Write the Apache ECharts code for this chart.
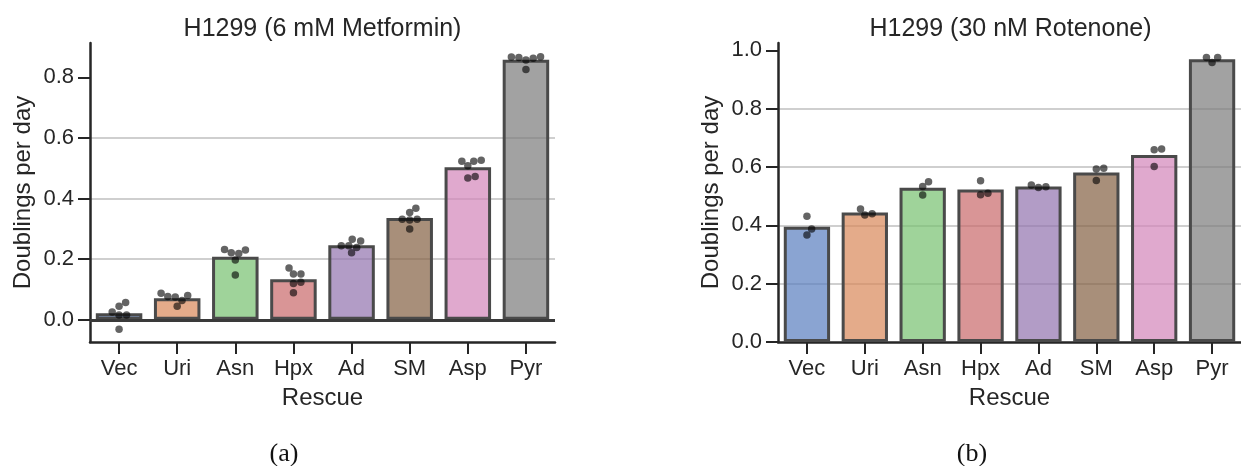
<!DOCTYPE html>
<html>
<head>
<meta charset="utf-8">
<script src="https://cdn.jsdelivr.net/npm/echarts@6/dist/echarts.min.js"></script>
<style>
  html, body { margin: 0; padding: 0; background: #ffffff; }
  #chart { width: 1241px; height: 466px; }
</style>
</head>
<body>
<div id="chart"></div>
<script>
// Rescue conditions on the x axis
const categories = ['Vec', 'Uri', 'Asn', 'Hpx', 'Ad', 'SM', 'Asp', 'Pyr'];

// Replicate growth rates (doublings per day) under 6 mM metformin
const metforminVec = [0.057, 0.045, 0.026, 0.016, 0.016, -0.031];
const metforminUri = [0.080, 0.064, 0.075, 0.077, 0.088, 0.045];
const metforminAsn = [0.230, 0.219, 0.221, 0.232, 0.197, 0.148];
const metforminHpx = [0.171, 0.151, 0.151, 0.124, 0.120, 0.089];
const metforminAd  = [0.260, 0.266, 0.239, 0.244, 0.244, 0.221];
const metforminSM  = [0.368, 0.354, 0.332, 0.329, 0.332, 0.300];
const metforminAsp = [0.523, 0.508, 0.523, 0.526, 0.473, 0.468];
const metforminPyr = [0.868, 0.863, 0.857, 0.865, 0.867, 0.826];

// Replicate growth rates (doublings per day) under 30 nM rotenone
const rotenoneVec = [0.431, 0.387, 0.367];
const rotenoneUri = [0.440, 0.435, 0.456];
const rotenoneAsn = [0.549, 0.533, 0.504];
const rotenoneHpx = [0.553, 0.510, 0.505];
const rotenoneAd  = [0.532, 0.530, 0.538];
const rotenoneSM  = [0.596, 0.593, 0.554];
const rotenoneAsp = [0.662, 0.659, 0.602];
const rotenonePyr = [0.975, 0.975, 0.958];

// Y tick labels
const metforminTicks = [0, 0.2, 0.4, 0.6, 0.8];
const rotenoneTicks = [0, 0.2, 0.4, 0.6, 0.8, 1.0];

const metforminReps = [metforminVec, metforminUri, metforminAsn, metforminHpx,
                       metforminAd, metforminSM, metforminAsp, metforminPyr];
const rotenoneReps = [rotenoneVec, rotenoneUri, rotenoneAsn, rotenoneHpx,
                      rotenoneAd, rotenoneSM, rotenoneAsp, rotenonePyr];

// ---- layout and style ----
const FONT = 'Liberation Sans';
const INK = '#262626';
// translucent muted fills, so the grid shows through the bars
const FILLS = [
  'rgba(88,125,191,0.7)', 'rgba(216,135,88,0.7)', 'rgba(118,192,111,0.7)',
  'rgba(201,104,105,0.7)', 'rgba(145,114,174,0.7)', 'rgba(131,95,65,0.7)',
  'rgba(211,132,185,0.7)', 'rgba(122,122,122,0.7)'
];
const GRID_TOP = 43, GRID_H = 299, GRID_W = 465;
const panels = [
  { left: 90,  reps: metforminReps, ticks: metforminTicks, yMin: -0.073, yMax: 0.913,
    title: 'H1299 (6 mM Metformin)', caption: '(a)', captionX: 284, zeroLine: true },
  { left: 778, reps: rotenoneReps, ticks: rotenoneTicks, yMin: 0, yMax: 1.025,
    title: 'H1299 (30 nM Rotenone)', caption: '(b)', captionX: 972, zeroLine: false }
];
const DOT = 7.5;

const mean = a => a.reduce((s, v) => s + v, 0) / a.length;

// Beeswarm placement: each point goes to the position closest to the
// category centre that does not overlap points already placed.
function swarmOffsets(values, pxPerX, pxPerY, d) {
  const order = values.map((v, i) => i).sort((a, b) => values[a] - values[b]);
  const placed = [];
  const offs = new Array(values.length);
  for (const i of order) {
    const y = values[i] * pxPerY;
    const cands = [0];
    for (const p of placed) {
      const dy = Math.abs(p.y - y);
      if (dy < d) {
        const dx = Math.sqrt(d * d - dy * dy);
        cands.push(p.x + dx, p.x - dx);
      }
    }
    cands.sort((a, b) => Math.abs(a) - Math.abs(b));
    const x = cands.find(c => placed.every(p => Math.hypot(p.x - c, p.y - y) >= d - 1e-6));
    placed.push({ x, y });
    offs[i] = x / pxPerX;
  }
  return offs;
}

const grid = [], xAxis = [], yAxis = [], series = [], title = [], graphic = [];

panels.forEach((pn, k) => {
  grid.push({ left: pn.left, top: GRID_TOP, width: GRID_W, height: GRID_H, containLabel: false });

  // category axis (bars, ticks, labels)
  xAxis.push({
    type: 'category', gridIndex: k, data: categories, boundaryGap: true,
    axisLine: { show: true, onZero: false, lineStyle: { color: INK, width: 2.5 } },
    axisTick: { show: true, alignWithLabel: true, length: 12, lineStyle: { color: INK, width: 2 } },
    axisLabel: { color: INK, fontSize: 22, fontFamily: FONT, margin: 16 },
    splitLine: { show: false },
    name: 'Rescue', nameLocation: 'middle', nameGap: 44,
    nameTextStyle: { color: INK, fontSize: 24, fontFamily: FONT }
  });
  // hidden numeric twin for the swarm points
  xAxis.push({ type: 'value', gridIndex: k, min: -0.5, max: 7.5, show: false });

  yAxis.push({
    type: 'value', gridIndex: k, min: pn.yMin, max: pn.yMax, splitNumber: 5,
    axisLine: { show: true, onZero: false, lineStyle: { color: INK, width: 2.5 } },
    axisTick: { show: true, length: 12, customValues: pn.ticks, lineStyle: { color: INK, width: 2 } },
    axisLabel: { color: INK, fontSize: 22, fontFamily: FONT, margin: 16,
                 customValues: pn.ticks, formatter: v => v.toFixed(1) },
    splitLine: { show: true, showMinLine: false, showMaxLine: false,
                 lineStyle: { color: '#cfcfcf', width: 2 } },
    name: 'Doublings per day', nameLocation: 'middle', nameGap: 55,
    nameTextStyle: { color: INK, fontSize: 24, fontFamily: FONT }
  });

  const bar = {
    type: 'bar', xAxisIndex: 2 * k, yAxisIndex: k, barWidth: '80%',
    data: pn.reps.map((r, i) => ({ value: mean(r), itemStyle: { color: FILLS[i] } })),
    itemStyle: { borderColor: '#4a4a4a', borderWidth: 3 },
    emphasis: { disabled: true }, silent: true, z: 2
  };
  if (pn.zeroLine) {
    bar.markLine = {
      silent: true, symbol: 'none', label: { show: false },
      lineStyle: { color: '#3a3a3a', width: 3, type: 'solid' },
      data: [{ yAxis: 0 }]
    };
  }
  series.push(bar);

  const pxPerX = GRID_W / 8;
  const pxPerY = GRID_H / (pn.yMax - pn.yMin);
  const pts = [];
  pn.reps.forEach((r, i) => {
    const offs = swarmOffsets(r, pxPerX, pxPerY, DOT);
    r.forEach((v, j) => pts.push([i + offs[j], v]));
  });
  series.push({
    type: 'scatter', xAxisIndex: 2 * k + 1, yAxisIndex: k, data: pts,
    symbolSize: DOT, itemStyle: { color: 'rgba(0,0,0,0.76)' },
    emphasis: { disabled: true }, silent: true, z: 5
  });

  title.push({
    text: pn.title, left: pn.left + GRID_W / 2, top: 17, textAlign: 'center', padding: 0,
    textStyle: { color: INK, fontSize: 25, fontWeight: 'normal', fontFamily: FONT }
  });

  graphic.push({
    type: 'text', x: pn.captionX, y: 454,
    style: { text: pn.caption, fill: '#111', font: '26px "Liberation Serif"',
             align: 'center', verticalAlign: 'middle',
             textAlign: 'center', textVerticalAlign: 'middle' }
  });
});

const chart = echarts.init(document.getElementById('chart'), null, { renderer: 'canvas' });
chart.setOption({
  animation: false,
  backgroundColor: '#ffffff',
  title, grid, xAxis, yAxis, series, graphic
});
</script>
</body>
</html>
